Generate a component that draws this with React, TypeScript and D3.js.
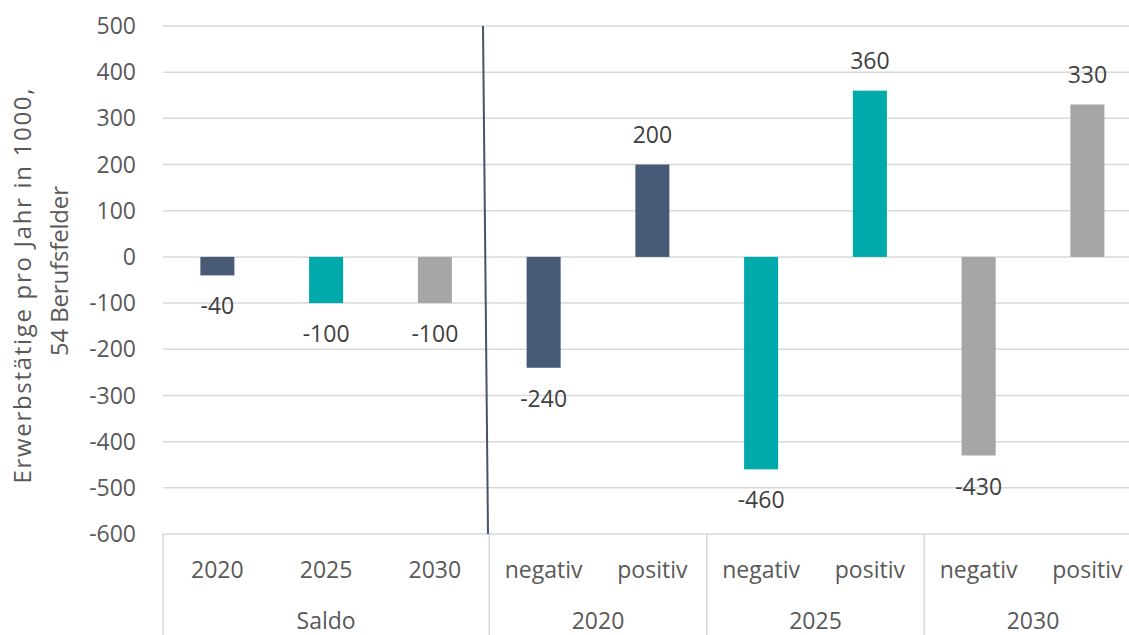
import React from "react";
import * as d3 from "d3";

const categories = ["2020", "2025", "2030", "negativ", "positiv", "negativ", "positiv", "negativ", "positiv"];
const groupLabels = ["Saldo", "2020", "2025", "2030"];
const groupSizes = [3, 2, 2, 2];
const values = [-40, -100, -100, -240, 200, -460, 360, -430, 330];
const seriesYear = ["2020", "2025", "2030", "2020", "2020", "2025", "2025", "2030", "2030"];
const yTicks = [500, 400, 300, 200, 100, 0, -100, -200, -300, -400, -500, -600];
const yTitle = ["Erwerbstätige pro Jahr in 1000,", "54 Berufsfelder"];

const W = 1129;
const H = 635;
const FONT = "'Open Sans', sans-serif";
const colorByYear: Record<string, string> = { "2020": "#475B77", "2025": "#00A9AA", "2030": "#A6A6A6" };

export default function App() {
  const left = 163;
  const step = 108.75;
  const right = left + step * categories.length;
  const x = d3
    .scaleBand<number>()
    .domain(categories.map((_, i) => i))
    .range([left, right])
    .paddingInner(0.687)
    .paddingOuter(0.3435);
  const y = d3.scaleLinear().domain([-600, 500]).range([534, 26]);

  const groupBounds: number[] = [left];
  let acc = 0;
  groupSizes.forEach((s) => {
    acc += s;
    groupBounds.push(left + acc * step);
  });

  return (
    <svg width={W} height={H} style={{ position: "fixed", left: 0, top: 0, background: "#fff" }} fontFamily={FONT}>
      {/* gridlines */}
      {yTicks.map((t) => (
        <line key={"g" + t} x1={left} x2={W} y1={y(t)} y2={y(t)} stroke="#D9D9D9" strokeWidth={1.5} />
      ))}
      {/* y tick labels */}
      {yTicks.map((t) => (
        <text key={"t" + t} x={136} y={y(t)} dy="0.35em" textAnchor="end" fontSize={23} fill="#595959">
          {t}
        </text>
      ))}
      {/* y title */}
      <text
        transform={`translate(31,286) rotate(-90)`}
        textAnchor="middle"
        fontSize={24}
        fill="#595959"
        textLength={395}
        lengthAdjust="spacing"
      >
        {yTitle[0]}
      </text>
      <text
        transform={`translate(68,271) rotate(-90)`}
        textAnchor="middle"
        fontSize={24}
        fill="#595959"
        textLength={170}
        lengthAdjust="spacing"
      >
        {yTitle[1]}
      </text>
      {/* bars */}
      {values.map((v, i) => (
        <rect
          key={"b" + i}
          x={x(i)}
          width={x.bandwidth()}
          y={Math.min(y(v), y(0))}
          height={Math.abs(y(v) - y(0))}
          fill={colorByYear[seriesYear[i]]}
        />
      ))}
      {/* data labels */}
      {values.map((v, i) => (
        <text
          key={"l" + i}
          x={(x(i) as number) + x.bandwidth() / 2}
          y={v >= 0 ? y(v) - 30 : y(v) + 31}
          dy="0.35em"
          textAnchor="middle"
          fontSize={23}
          fill="#404040"
        >
          {v}
        </text>
      ))}
      {/* divider line */}
      <line x1={483} y1={y(500)} x2={488} y2={y(-600)} stroke="#44546A" strokeWidth={2} />
      {/* category separators */}
      {groupBounds.map((b, i) => (
        <line key={"s" + i} x1={b} x2={b} y1={y(-600)} y2={H} stroke="#D9D9D9" strokeWidth={1.5} />
      ))}
      {/* category labels */}
      {categories.map((c, i) => (
        <text key={"c" + i} x={(x(i) as number) + x.bandwidth() / 2} y={578} textAnchor="middle" fontSize={23} fill="#595959">
          {c}
        </text>
      ))}
      {groupLabels.map((g, i) => (
        <text key={"gl" + i} x={(groupBounds[i] + groupBounds[i + 1]) / 2} y={629} textAnchor="middle" fontSize={23} fill="#595959">
          {g}
        </text>
      ))}
    </svg>
  );
}
